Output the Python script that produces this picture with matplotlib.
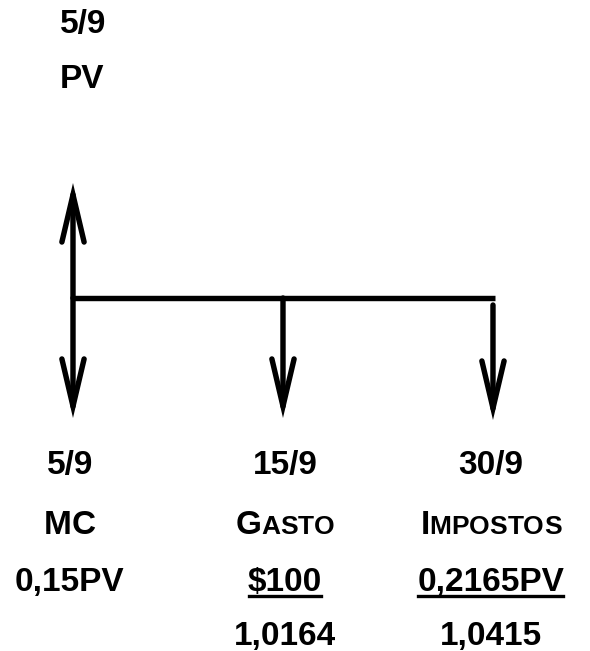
import matplotlib
matplotlib.use("Agg")
import matplotlib.pyplot as plt
from matplotlib.patches import FancyArrowPatch
from matplotlib.offsetbox import TextArea, HPacker, AnnotationBbox
from matplotlib.lines import Line2D

# ---- data ----
inflow_date = "5/9"
inflow_label = "PV"
inflow_direction = 1
dates = ["5/9", "15/9", "30/9"]
names = ["MC", "Gasto", "Impostos"]          # rendered in small caps
amounts = ["0,15PV", "$100", "0,2165PV"]
factors = ["", "1,0164", "1,0415"]
underlined = [False, True, True]
directions = [-1, -1, -1]                   # outflows

FONT = ["Liberation Sans", "DejaVu Sans"]
FS = 24
LW = 3.9

fig = plt.figure(figsize=(5.9, 6.51), dpi=100)
ax = fig.add_axes([0, 0, 1, 1])
ax.set_xlim(-0.3476, 2.462)
ax.set_ylim(-353, 298)
ax.axis("off")

xs = list(range(len(dates)))

# time line
ax.plot([xs[0], xs[-1] + 0.01], [0, 0], color="black", lw=LW, solid_capstyle="butt")

def arrow(x, y0, y1):
    a = FancyArrowPatch((x, y0), (x, y1),
                        arrowstyle="->,head_length=34,head_width=8",
                        mutation_scale=1, lw=LW, color="black",
                        shrinkA=0, shrinkB=0, capstyle="round", joinstyle="miter")
    ax.add_patch(a)

# inflow arrow
arrow(xs[0], 0, inflow_direction * 115)
# outflow arrows
for i, (x, d) in enumerate(zip(xs, directions)):
    last = i == len(xs) - 1
    start = d * 7 if last else 0
    length = 122 if last else 120
    arrow(x, start, d * length)

tp = dict(fontsize=FS, fontweight="bold", family=FONT, ha="center", va="center")

ax.text(xs[0] + 0.05, 273, inflow_date, **tp)
ax.text(xs[0] + 0.045, 218, inflow_label, **tp)

def small_caps(x, y, s):
    parts = []
    for ch in s:
        if ch.isupper():
            parts.append(TextArea(ch, textprops=dict(fontsize=FS, fontweight="bold", family=FONT)))
        else:
            parts.append(TextArea(ch.upper(), textprops=dict(fontsize=FS * 0.79, fontweight="bold", family=FONT)))
    box = HPacker(children=parts, pad=0, sep=0, align="baseline")
    ab = AnnotationBbox(box, (x, y), xycoords="data", frameon=False,
                        box_alignment=(0.5, 0.5), pad=0)
    ax.add_artist(ab)

dx = [-0.015, 0.01, -0.01]
ul_texts = []
for i, x in enumerate(xs):
    ax.text(x + dx[i], -167, dates[i], **tp)
    small_caps(x + dx[i], -228, names[i])
    t = ax.text(x + dx[i], -285, amounts[i], **tp)
    if underlined[i]:
        ul_texts.append(t)
    if factors[i]:
        ax.text(x + dx[i], -339, factors[i], **tp)

fig.canvas.draw()
r = fig.canvas.get_renderer()
for t in ul_texts:
    bb = t.get_window_extent(r)
    y = bb.y0 + 3
    fig.add_artist(Line2D([bb.x0 + 1, bb.x1 - 1], [y, y], transform=None,
                          color="black", lw=2.4))

fig.savefig("out.png", dpi=100, facecolor="white")
